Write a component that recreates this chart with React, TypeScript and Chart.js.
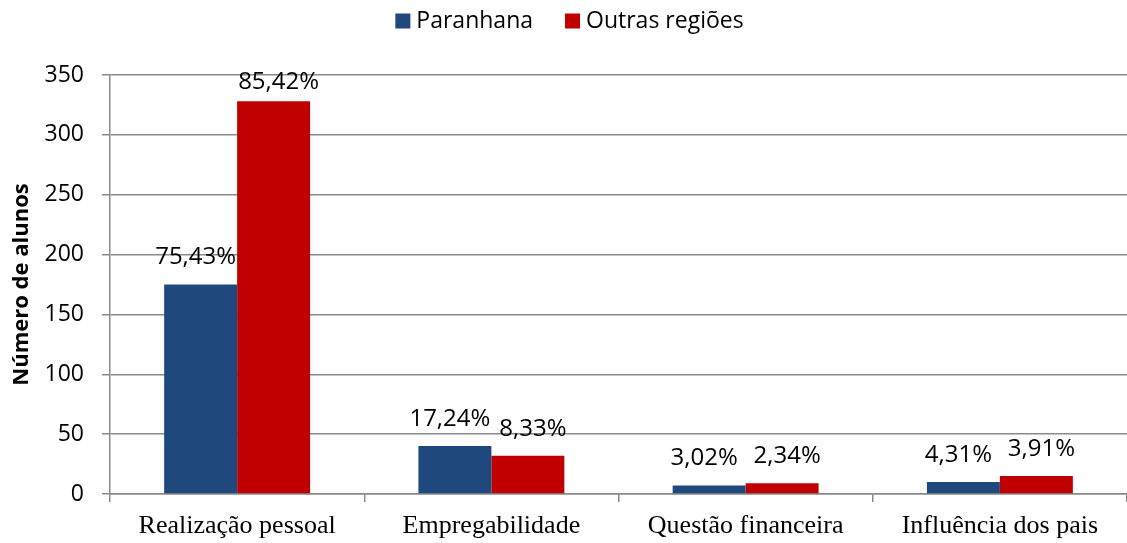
import React, { useEffect, useRef } from "react";
import { Chart, registerables } from "chart.js";

Chart.register(...registerables);

const categories = ["Realização pessoal", "Empregabilidade", "Questão financeira", "Influência dos pais"];
const paranhanaValues = [175, 40, 7, 10];
const outrasValues = [328, 32, 9, 15];
const paranhanaLabels = ["75,43%", "17,24%", "3,02%", "4,31%"];
const outrasLabels = ["85,42%", "8,33%", "2,34%", "3,91%"];
const yTicks = [0, 50, 100, 150, 200, 250, 300, 350];

const SANS = "'Open Sans', 'Noto Sans', sans-serif";
const SERIF = "'Liberation Serif', 'DejaVu Serif', serif";
const GRID = "#8a8a8a";

const labelPlugin = {
  id: "pctLabels",
  afterDatasetsDraw(chart: any) {
    const ctx = chart.ctx;
    const sets = [paranhanaLabels, outrasLabels];
    const dx = [-5, 5];
    ctx.save();
    ctx.font = `24px ${SANS}`;
    ctx.fillStyle = "#000";
    ctx.textAlign = "center";
    ctx.textBaseline = "middle";
    chart.data.datasets.forEach((_: any, di: number) => {
      const meta = chart.getDatasetMeta(di);
      meta.data.forEach((bar: any, i: number) => {
        let y = bar.y - 27;
        if (y < chart.chartArea.top + 7) y = chart.chartArea.top + 7;
        ctx.fillText(sets[di][i], bar.x + dx[di], y);
      });
    });
    ctx.restore();
  },
};

const legendPlugin = {
  id: "customLegend",
  afterDraw(chart: any) {
    const ctx = chart.ctx;
    const ds = chart.data.datasets;
    const box = 15;
    const gapBoxText = 6;
    const gapItems = 32;
    ctx.save();
    ctx.font = `23px ${SANS}`;
    ctx.textBaseline = "middle";
    ctx.textAlign = "left";
    const widths = ds.map((d: any) => box + gapBoxText + ctx.measureText(d.label).width);
    const total = widths.reduce((a: number, b: number) => a + b, 0) + gapItems * (ds.length - 1);
    let x = (chart.width - total) / 2 + 6;
    const y = 21;
    ds.forEach((d: any, i: number) => {
      ctx.fillStyle = d.backgroundColor;
      ctx.fillRect(x, y - box / 2, box, box);
      ctx.fillStyle = "#000";
      ctx.fillText(d.label, x + box + gapBoxText, y);
      x += widths[i] + gapItems;
    });
    ctx.restore();
  },
};

export default function App() {
  const ref = useRef<HTMLCanvasElement>(null);
  useEffect(() => {
    if (!ref.current) return;
    const chart = new Chart(ref.current, {
      type: "bar",
      data: {
        labels: categories,
        datasets: [
          {
            label: "Paranhana",
            data: paranhanaValues,
            backgroundColor: "#1F497D",
            categoryPercentage: 0.574,
            barPercentage: 1,
          },
          {
            label: "Outras regiões",
            data: outrasValues,
            backgroundColor: "#C00000",
            categoryPercentage: 0.574,
            barPercentage: 1,
          },
        ],
      },
      options: {
        animation: false,
        responsive: false,
        maintainAspectRatio: false,
        layout: { padding: { left: 0, right: 0, top: 75, bottom: 0 } },
        plugins: {
          legend: { display: false },
          tooltip: { enabled: false },
        },
        scales: {
          x: {
            afterFit(scale: any) {
              scale.height = 49;
            },
            grid: { drawOnChartArea: false, offset: true, tickLength: 8, color: GRID, lineWidth: 1.5 },
            border: { color: GRID, width: 1.5 },
            ticks: { font: { family: SERIF, size: 26 }, color: "#000", padding: 9 },
          },
          y: {
            min: 0,
            max: 350,
            afterBuildTicks(scale: any) {
              scale.ticks = yTicks.map((v) => ({ value: v }));
            },
            afterFit(scale: any) {
              scale.width = 110;
            },
            grid: { color: GRID, lineWidth: 1.5, tickLength: 8 },
            border: { color: GRID, width: 1.5 },
            ticks: { font: { family: SANS, size: 23 }, color: "#000", padding: 18 },
            title: {
              display: true,
              text: "Número de alunos",
              font: { family: SANS, size: 22, weight: "bold" },
              color: "#000",
              padding: { top: 9, bottom: 0 },
            },
          },
        },
      },
      plugins: [labelPlugin, legendPlugin],
    });
    return () => chart.destroy();
  }, []);
  return (
    <div style={{ position: "absolute", left: 0, top: 0, width: 1127, height: 543 }}>
      <canvas ref={ref} width={1127} height={543} />
    </div>
  );
}
